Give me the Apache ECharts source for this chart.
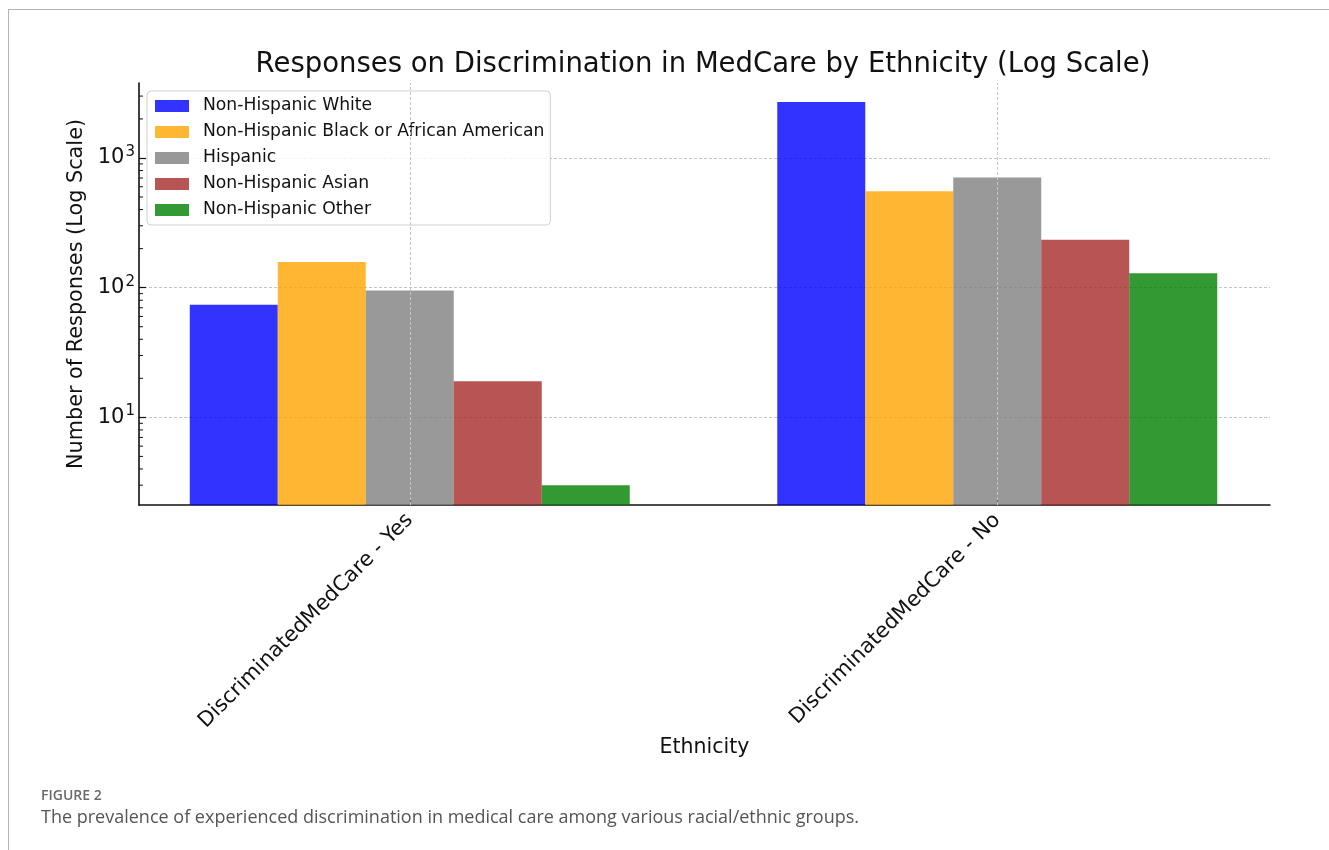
<!DOCTYPE html>
<html>
<head>
<meta charset="utf-8">
<script src="https://cdn.jsdelivr.net/npm/echarts@6/dist/echarts.min.js"></script>
<style>
  html, body { margin: 0; padding: 0; background: #fff; }
  #wrap { position: relative; width: 1329px; height: 850px; overflow: hidden; }
  #frame { position: absolute; left: 8px; top: 9px; right: 0; bottom: 0;
           border-top: 1px solid #b4b4b4; border-left: 1px solid #b4b4b4; }
  #chart { position: absolute; left: 0; top: 0; width: 1329px; height: 850px; }
  .fig-label { position: absolute; left: 41px; top: 785px; font-family: "Open Sans", sans-serif;
               font-size: 14px; font-weight: 600; color: #6a6a6a; }
  .fig-caption { position: absolute; left: 41px; top: 804px; font-family: "Open Sans", sans-serif;
                 font-size: 18px; color: #555; }
</style>
</head>
<body>
<div id="wrap">
  <div id="frame"></div>
  <div id="chart"></div>
  <div class="fig-label">FIGURE 2</div>
  <div class="fig-caption">The prevalence of experienced discrimination in medical care among various racial/ethnic groups.</div>
</div>
<script>
// Survey answers, grouped by whether discrimination in medical care was reported
const categories = ['DiscriminatedMedCare - Yes', 'DiscriminatedMedCare - No'];
const groupNames = [
  'Non-Hispanic White',
  'Non-Hispanic Black or African American',
  'Hispanic',
  'Non-Hispanic Asian',
  'Non-Hispanic Other'
];
const nonHispanicWhite = [74, 2700];
const nonHispanicBlack = [158, 553];
const hispanic = [95, 707];
const nonHispanicAsian = [19, 234];
const nonHispanicOther = [3, 129];

// Log axis range and the minor tick positions between decades
const yMin = 2.11;
const yMax = 3785;
const minorTickValues = [3, 4, 5, 6, 7, 8, 9, 20, 30, 40, 50, 60, 70, 80, 90,
                         200, 300, 400, 500, 600, 700, 800, 900, 2000, 3000];

const seriesValues = [nonHispanicWhite, nonHispanicBlack, hispanic, nonHispanicAsian, nonHispanicOther];
const seriesColors = ['rgba(0,0,255,0.8)', 'rgba(255,165,0,0.8)', 'rgba(128,128,128,0.8)',
                      'rgba(165,42,42,0.8)', 'rgba(0,128,0,0.8)'];

const FONT = 'DejaVu Sans';

// "10" with a raised exponent for each decade tick
function powerLabel(v) {
  const p = Math.round(Math.log10(v));
  if (Math.abs(Math.pow(10, p) - v) > 1e-6 * v) return '';
  return '{b|10}{s|' + p + '}';
}

const gridTop = 83, gridBottom = 345;
const gridLine = { show: true, lineStyle: { color: '#c4c4c4', type: [3, 2], width: 1 } };

const chart = echarts.init(document.getElementById('chart'), null, { renderer: 'canvas' });

const barSeries = groupNames.map((name, i) => ({
  name: name,
  type: 'bar',
  xAxisIndex: 1,
  yAxisIndex: 1,
  data: seriesValues[i],
  barWidth: 88,
  barGap: '0%',
  clip: true,
  itemStyle: { color: seriesColors[i] },
  z: 2
}));

chart.setOption({
  animation: false,
  backgroundColor: 'transparent',
  textStyle: { fontFamily: FONT },
  title: {
    text: 'Responses on Discrimination in MedCare by Ethnicity (Log Scale)',
    left: 698,
    top: 46,
    textAlign: 'center',
    textStyle: { fontFamily: FONT, fontSize: 27.5, fontWeight: 'normal', color: '#111' }
  },
  legend: {
    orient: 'vertical',
    left: 147,
    top: 91,
    data: groupNames,
    itemWidth: 34,
    itemHeight: 12,
    itemGap: 6,
    padding: [5, 6, 5, 8],
    backgroundColor: 'rgba(255,255,255,0.85)',
    borderColor: '#d0d0d0',
    borderWidth: 1,
    borderRadius: 4,
    icon: 'rect',
    selectedMode: false,
    textStyle: { fontFamily: FONT, fontSize: 17.2, color: '#111', lineHeight: 20, padding: [0, 0, 0, 9] }
  },
  grid: [
    { left: 139, right: 59, top: gridTop, bottom: gridBottom },
    { left: 116, right: 38, top: gridTop, bottom: gridBottom }
  ],
  xAxis: [
    {
      type: 'category',
      gridIndex: 0,
      data: categories,
      name: 'Ethnicity',
      nameLocation: 'middle',
      nameGap: 232,
      nameTextStyle: { fontFamily: FONT, fontSize: 20.5, color: '#111' },
      axisLine: { show: true, lineStyle: { color: '#111', width: 1.6 } },
      axisTick: { show: false },
      axisLabel: { show: false },
      splitLine: { show: false }
    },
    {
      type: 'category',
      gridIndex: 1,
      data: categories,
      axisLine: { show: false },
      axisTick: { show: true, inside: true, alignWithLabel: true, length: 6, lineStyle: { color: '#111', width: 1.2 } },
      axisLabel: { show: true, rotate: 45, margin: 12, fontFamily: FONT, fontSize: 21, color: '#111' },
      splitLine: { show: false }
    }
  ],
  yAxis: [
    {
      type: 'log',
      logBase: 10,
      gridIndex: 0,
      min: yMin,
      max: yMax,
      name: 'Number of Responses (Log Scale)',
      nameLocation: 'middle',
      nameGap: 51,
      nameTextStyle: { fontFamily: FONT, fontSize: 20.8, color: '#111' },
      axisLine: { show: true, lineStyle: { color: '#111', width: 1.6 } },
      axisTick: { show: true, inside: true, length: 7, lineStyle: { color: '#111', width: 1.2 } },
      axisLabel: {
        show: true, margin: 4, color: '#111',
        showMinLabel: false, showMaxLabel: false,
        formatter: v => powerLabel(v),
        rich: {
          b: { fontFamily: FONT, fontSize: 21, color: '#111', lineHeight: 22 },
          s: { fontFamily: FONT, fontSize: 15, color: '#111', lineHeight: 15, padding: [0, 0, 12, 1] }
        }
      },
      splitLine: Object.assign({ showMinLine: false, showMaxLine: false }, gridLine),
      minorTick: { show: false },
      minorSplitLine: { show: false }
    },
    {
      type: 'log',
      logBase: 10,
      gridIndex: 1,
      min: yMin,
      max: yMax,
      show: false
    }
  ],
  series: [
    // Vertical dashed grid lines at the category centres
    {
      type: 'line',
      xAxisIndex: 1,
      yAxisIndex: 1,
      data: [],
      z: 1,
      silent: true,
      markLine: {
        silent: true,
        symbol: 'none',
        label: { show: false },
        lineStyle: { color: '#c4c4c4', type: [3, 2], width: 1 },
        data: categories.map(c => ({ xAxis: c }))
      }
    },
    ...barSeries,
    // Minor log ticks on the left spine
    {
      type: 'custom',
      xAxisIndex: 0,
      yAxisIndex: 0,
      silent: true,
      z: 5,
      data: minorTickValues.map(v => [0, v]),
      renderItem: function (params, api) {
        const y = api.coord([0, api.value(1)])[1];
        const x0 = params.coordSys.x;
        return {
          type: 'line',
          shape: { x1: x0, y1: y, x2: x0 + 4, y2: y },
          style: { stroke: '#111', lineWidth: 1 }
        };
      }
    }
  ]
});
</script>
</body>
</html>
